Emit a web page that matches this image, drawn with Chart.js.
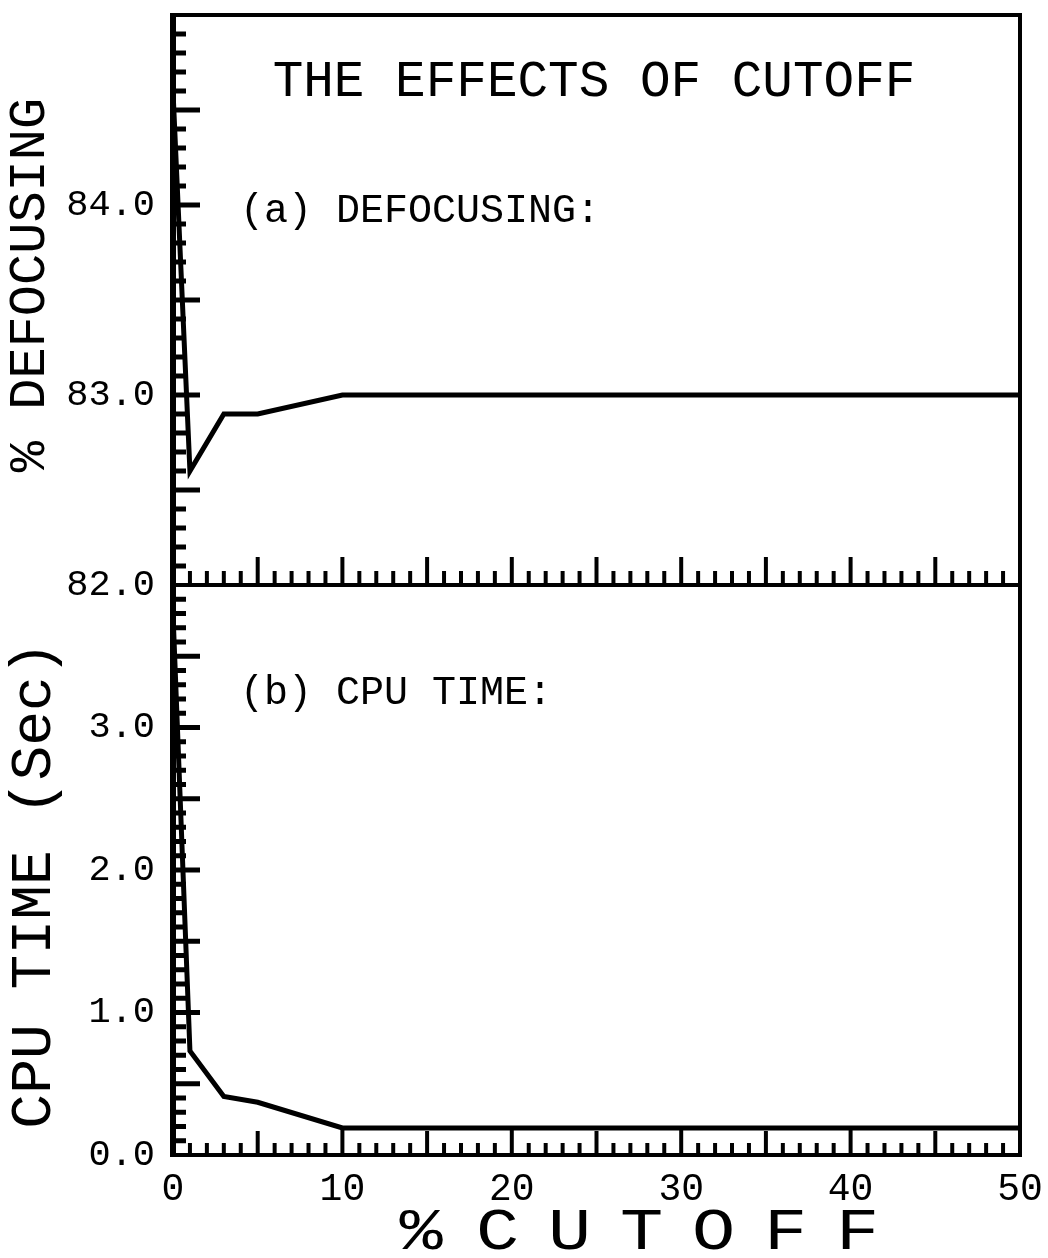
<!DOCTYPE html>
<html>
<head>
<meta charset="utf-8">
<script src="https://cdn.jsdelivr.net/npm/chart.js@4.4.1/dist/chart.umd.min.js"></script>
<style>
html, body { margin: 0; padding: 0; background: #fff; }
#wrap { position: relative; width: 1048px; height: 1258px; background: #fff; overflow: hidden; }
canvas { position: absolute; left: 0; }
#topChart { top: 0; }
#botChart { top: 570px; }
</style>
</head>
<body>
<div id="wrap">
  <canvas id="topChart" width="1048" height="620"></canvas>
  <canvas id="botChart" width="1048" height="688"></canvas>
</div>
<script>
// values
const cutoff     = [0,    1,     3,    5,    10,   15,   20,   25,   30,   35,   40,   45,   50];
const defocusing = [84.6, 82.6,  82.9, 82.9, 83.0, 83.0, 83.0, 83.0, 83.0, 83.0, 83.0, 83.0, 83.0];
const cpuTime    = [3.8,  0.73,  0.41, 0.37, 0.19, 0.19, 0.19, 0.19, 0.19, 0.19, 0.19, 0.19, 0.19];

const xLabelStep = 10;
const FONT = "'Liberation Mono', 'DejaVu Sans Mono', monospace";

function toPoints(ys) {
    return cutoff.map((c, i) => ({x: c, y: ys[i]}));
}

// frame, inward tick marks and the free text of each panel
const panelDeco = {
    id: 'panelDeco',
    afterDraw(chart, args, o) {
        const ctx = chart.ctx;
        const a = chart.chartArea;
        const x = chart.scales.x;
        const y = chart.scales.y;
        const line = (x1, y1, x2, y2) => {
            ctx.beginPath();
            ctx.moveTo(x1, y1);
            ctx.lineTo(x2, y2);
            ctx.stroke();
        };
        ctx.save();
        ctx.strokeStyle = '#000';
        ctx.lineCap = 'butt';

        ctx.lineWidth = 4;
        ctx.strokeRect(a.left, a.top, a.right - a.left, a.bottom - a.top);
        ctx.lineWidth = 6;
        line(a.left, a.top - 2, a.left, a.bottom + 2);

        // y ticks: minor every o.yMinor, long every o.yMajorEvery minors
        ctx.lineWidth = 5;
        const ny = Math.round((y.max - y.min) / o.yMinor);
        for (let i = 1; i < ny; i++) {
            const py = y.getPixelForValue(y.min + i * o.yMinor);
            const len = (i % o.yMajorEvery === 0) ? 27 : 13;
            line(a.left, py, a.left + len, py);
        }

        // x ticks along the bottom edge, pointing up
        ctx.lineWidth = 4;
        for (let v = x.min + 1; v < x.max; v++) {
            const px = x.getPixelForValue(v);
            let len = o.xLen[0];
            if (v % 10 === 0) len = o.xLen[2];
            else if (v % 5 === 0) len = o.xLen[1];
            line(px, a.bottom, px, a.bottom - len);
        }

        ctx.fillStyle = '#000';
        for (const t of o.texts) {
            ctx.save();
            ctx.font = t.size + 'px ' + FONT;
            ctx.textAlign = t.align || 'left';
            ctx.textBaseline = 'middle';
            if (t.spacing) ctx.letterSpacing = t.spacing + 'px';
            ctx.translate(t.x, t.y);
            if (t.rotate) ctx.rotate(t.rotate);
            if (t.sx) ctx.scale(t.sx, 1);
            ctx.fillText(t.text, 0, 0);
            ctx.restore();
        }
        ctx.restore();
    }
};

function lineDataset(ys) {
    return {
        data: toPoints(ys),
        borderColor: '#000',
        borderWidth: 5,
        pointRadius: 0,
        tension: 0,
        fill: false,
        borderJoinStyle: 'miter',
    };
}

function yAxis(min, max, hideValue) {
    return {
        type: 'linear',
        min: min,
        max: max,
        afterFit: (s) => {
            s.width = 173;
            s.paddingTop = 0;
            s.paddingBottom = 0;
        },
        grid: { display: false, drawTicks: false },
        border: { display: false },
        ticks: {
            stepSize: 1,
            padding: 18,
            color: '#000',
            font: { family: FONT, size: 37 },
            callback: (v) => (v === hideValue ? null : v.toFixed(1)),
        },
    };
}

const baseOptions = {
    responsive: false,
    animation: false,
    events: [],
    plugins: { legend: { display: false }, tooltip: { enabled: false } },
};

new Chart(document.getElementById('topChart'), {
    type: 'line',
    data: { datasets: [lineDataset(defocusing)] },
    plugins: [panelDeco],
    options: {
        ...baseOptions,
        layout: { padding: { top: 15, right: 28, bottom: 35, left: 0 } },
        scales: {
            x: { type: 'linear', min: 0, max: 50, display: false },
            y: yAxis(82, 85, 85),
        },
        plugins: {
            ...baseOptions.plugins,
            panelDeco: {
                yMinor: 0.1,
                yMajorEvery: 5,
                xLen: [14, 28, 28],
                texts: [
                    { text: 'THE EFFECTS OF CUTOFF', x: 594, y: 82, size: 51, align: 'center' },
                    { text: '(a) DEFOCUSING:', x: 240, y: 211, size: 40 },
                    { text: '% DEFOCUSING', x: 30, y: 285, size: 52, align: 'center', rotate: -Math.PI / 2 },
                ],
            },
        },
    },
});

new Chart(document.getElementById('botChart'), {
    type: 'line',
    data: { datasets: [lineDataset(cpuTime)] },
    plugins: [panelDeco],
    options: {
        ...baseOptions,
        layout: { padding: { top: 15, right: 28, bottom: 0, left: 0 } },
        scales: {
            x: {
                type: 'linear',
                min: 0,
                max: 50,
                afterFit: (s) => {
                    s.height = 103;
                    s.paddingLeft = 0;
                    s.paddingRight = 0;
                },
                grid: { display: false, drawTicks: false },
                border: { display: false },
                ticks: {
                    stepSize: xLabelStep,
                    padding: 12,
                    color: '#000',
                    font: { family: FONT, size: 38 },
                    callback: (v) => String(v),
                },
            },
            y: yAxis(0, 4, 4),
        },
        plugins: {
            ...baseOptions.plugins,
            panelDeco: {
                yMinor: 0.1,
                yMajorEvery: 5,
                xLen: [12, 24, 28],
                texts: [
                    { text: '(b) CPU TIME:', x: 240, y: 123, size: 40 },
                    { text: 'CPU TIME (Sec)', x: 35, y: 315, size: 58, align: 'center', rotate: -Math.PI / 2 },
                    { text: '%', x: 421, y: 663, size: 60, align: 'center', sx: 1.2 },
                    { text: 'CUTOFF', x: 476, y: 663, size: 60, spacing: 24, sx: 1.2 },
                ],
            },
        },
    },
});
</script>
</body>
</html>
